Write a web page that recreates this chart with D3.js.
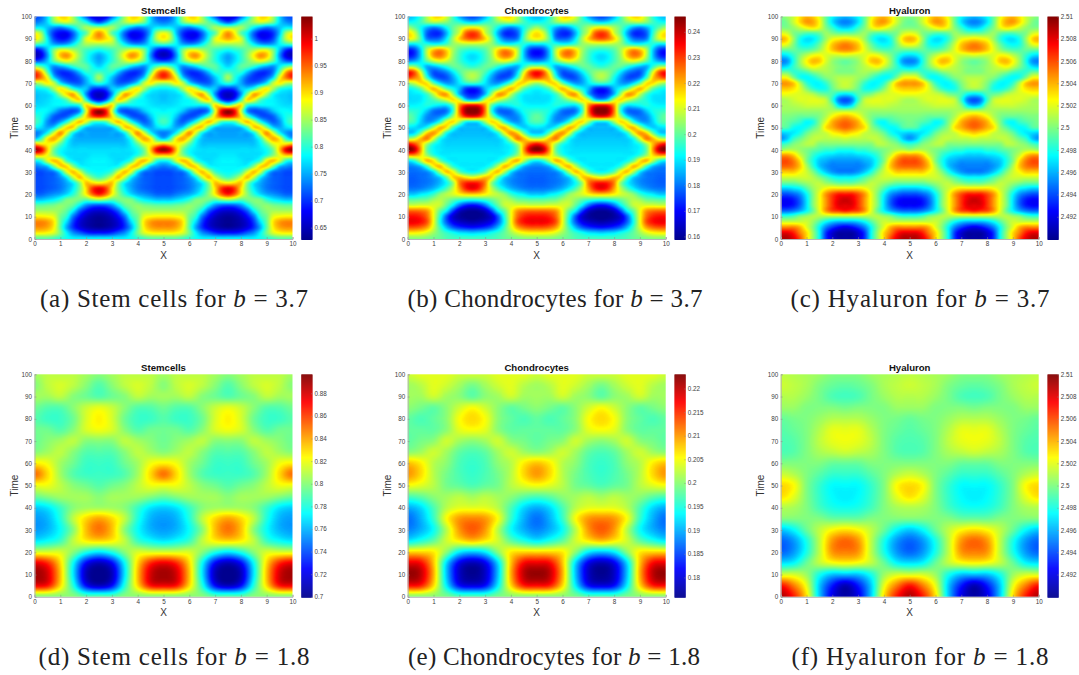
<!DOCTYPE html>
<html>
<head>
<meta charset="utf-8">
<style>
  body { margin: 0; background: #fff; }
  svg text { font-family: "Liberation Sans", sans-serif; }
  svg text.caption { font-family: "Liberation Serif", serif; }
  svg image { filter: blur(0.6px); }
</style>
<script src="https://cdn.jsdelivr.net/npm/d3@7"></script>
</head>
<body>
<svg id="fig" width="1079" height="675"></svg>
<script>
// values. one half period of the pattern (x 0 to 2.5), it repeats mirrored over x 0..10
const xFine = [0, .25, .5, .75, 1, 1.25, 1.5, 1.75, 2, 2.25, 2.5];
const xCoarse = [0, .5, 1, 1.5, 2, 2.5];
const tFine = d3.range(0, 100.1, 2.5);
const tCoarse = d3.range(0, 100.1, 5);

const stemHigh = [
[.82,.82,.82,.81,.80,.79,.78,.78,.78,.78,.78],
[.89,.89,.885,.87,.83,.78,.74,.72,.70,.69,.69],
[.93,.93,.92,.89,.82,.75,.70,.67,.65,.64,.635],
[.935,.935,.925,.895,.825,.77,.705,.665,.645,.635,.63],
[.89,.89,.885,.875,.83,.80,.73,.685,.655,.64,.635],
[.85,.85,.85,.85,.84,.82,.78,.72,.685,.665,.66],
[.82,.82,.825,.83,.84,.835,.82,.78,.74,.72,.715],
[.76,.76,.77,.78,.80,.83,.835,.83,.82,.84,.85],
[.72,.72,.73,.74,.75,.77,.80,.84,.89,.95,.98],
[.71,.71,.715,.72,.73,.75,.78,.83,.90,.97,.995],
[.71,.71,.715,.72,.73,.75,.78,.84,.91,.90,.89],
[.71,.71,.715,.72,.74,.78,.86,.91,.87,.83,.81],
[.71,.71,.72,.73,.78,.87,.91,.87,.81,.79,.785],
[.73,.74,.76,.83,.90,.90,.84,.79,.78,.78,.78],
[.785,.80,.87,.91,.89,.81,.78,.77,.775,.78,.78],
[.91,.91,.88,.84,.80,.775,.77,.77,.77,.775,.775],
[1.03,1.0,.91,.83,.79,.775,.77,.77,.77,.77,.77],
[.92,.90,.89,.87,.82,.78,.76,.76,.76,.76,.76],
[.76,.80,.89,.92,.88,.80,.76,.75,.75,.75,.75],
[.73,.745,.79,.87,.93,.87,.785,.75,.75,.745,.745],
[.78,.77,.75,.77,.84,.90,.90,.81,.76,.75,.75],
[.81,.79,.74,.72,.75,.80,.87,.91,.87,.81,.80],
[.80,.79,.76,.72,.71,.72,.76,.82,.90,.96,.98],
[.78,.785,.78,.76,.73,.715,.71,.74,.87,.99,1.03],
[.77,.77,.775,.78,.78,.78,.78,.80,.90,.87,.83],
[.76,.765,.77,.78,.79,.82,.88,.90,.80,.71,.68],
[.76,.765,.77,.79,.85,.90,.92,.84,.74,.67,.65],
[.78,.785,.80,.85,.89,.86,.80,.77,.76,.71,.70],
[.85,.86,.89,.86,.78,.74,.72,.72,.75,.78,.80],
[.97,.94,.88,.77,.72,.70,.70,.72,.76,.80,.85],
[.96,.92,.82,.73,.70,.70,.72,.76,.80,.80,.81],
[.84,.82,.78,.74,.75,.77,.80,.82,.82,.79,.77],
[.71,.72,.76,.82,.86,.88,.86,.83,.80,.77,.75],
[.65,.67,.74,.84,.91,.93,.89,.84,.80,.77,.75],
[.68,.70,.76,.83,.87,.87,.85,.83,.81,.80,.79],
[.81,.80,.78,.75,.74,.75,.78,.82,.85,.85,.85],
[.89,.86,.78,.71,.685,.69,.73,.79,.87,.90,.92],
[.88,.85,.76,.70,.68,.68,.72,.78,.82,.89,.93],
[.78,.78,.76,.74,.73,.75,.78,.82,.85,.85,.85],
[.73,.74,.77,.83,.86,.87,.85,.82,.79,.74,.71],
[.71,.72,.77,.85,.90,.90,.85,.78,.72,.67,.66]
];

const chondroHigh = [
[.203,.203,.203,.202,.201,.2,.198,.197,.197,.197,.197],
[.214,.214,.213,.21,.205,.2,.196,.193,.19,.189,.188],
[.228,.228,.226,.221,.21,.197,.186,.178,.174,.172,.171],
[.236,.236,.234,.228,.212,.193,.178,.169,.165,.163,.162],
[.234,.234,.232,.226,.212,.195,.178,.166,.161,.159,.158],
[.226,.226,.225,.222,.212,.2,.191,.176,.165,.161,.16],
[.209,.209,.21,.21,.21,.208,.2,.191,.18,.173,.171],
[.199,.199,.2,.201,.205,.207,.204,.2,.197,.195,.194],
[.187,.187,.19,.192,.196,.203,.207,.21,.214,.217,.218],
[.18,.18,.181,.183,.186,.191,.198,.208,.221,.232,.236],
[.178,.178,.179,.18,.182,.186,.192,.204,.224,.232,.234],
[.178,.178,.179,.18,.183,.188,.2,.216,.219,.215,.212],
[.179,.179,.18,.182,.19,.206,.218,.213,.2,.194,.192],
[.181,.182,.186,.197,.213,.219,.208,.196,.191,.19,.19],
[.191,.195,.207,.219,.215,.201,.193,.19,.19,.19,.19],
[.222,.222,.216,.205,.196,.191,.19,.19,.19,.19,.19],
[.246,.241,.222,.2,.192,.19,.189,.189,.189,.189,.189],
[.235,.23,.219,.205,.194,.19,.188,.188,.188,.188,.188],
[.206,.209,.219,.224,.21,.194,.188,.187,.187,.187,.187],
[.187,.189,.201,.217,.222,.212,.194,.187,.186,.186,.186],
[.19,.189,.188,.194,.207,.219,.215,.198,.188,.186,.186],
[.198,.196,.188,.183,.186,.196,.212,.216,.205,.192,.19],
[.2,.197,.19,.182,.18,.182,.19,.205,.22,.232,.235],
[.196,.195,.193,.187,.18,.178,.18,.195,.225,.243,.245],
[.191,.191,.192,.194,.192,.19,.19,.2,.222,.233,.235],
[.189,.189,.19,.194,.198,.204,.21,.216,.208,.19,.185],
[.189,.19,.191,.197,.208,.22,.221,.205,.186,.175,.172],
[.192,.194,.2,.212,.219,.212,.2,.193,.186,.175,.172],
[.205,.209,.216,.215,.2,.189,.183,.184,.19,.195,.197],
[.23,.225,.217,.196,.181,.176,.177,.184,.193,.203,.207],
[.234,.228,.21,.188,.177,.178,.182,.19,.198,.203,.205],
[.205,.204,.195,.185,.186,.19,.195,.2,.2,.197,.195],
[.182,.184,.19,.2,.208,.212,.209,.203,.197,.192,.19],
[.171,.174,.187,.207,.222,.225,.218,.205,.197,.191,.189],
[.172,.175,.188,.207,.218,.222,.216,.206,.199,.196,.195],
[.19,.19,.194,.195,.193,.194,.198,.204,.206,.207,.207],
[.213,.21,.198,.181,.178,.18,.19,.205,.217,.225,.228],
[.216,.21,.195,.178,.173,.174,.185,.2,.21,.226,.231],
[.205,.2,.193,.185,.181,.184,.192,.2,.206,.212,.214],
[.192,.193,.197,.203,.207,.206,.203,.198,.195,.19,.188],
[.186,.188,.195,.207,.216,.217,.21,.197,.185,.178,.175]
];

const hyalHigh = [
[2.509,2.509,2.508,2.506,2.5032,2.5005,2.4975,2.4935,2.4915,2.4905,2.4905],
[2.508,2.508,2.507,2.505,2.5032,2.5005,2.4975,2.4935,2.4915,2.4905,2.4905],
[2.505,2.505,2.505,2.504,2.502,2.5,2.4975,2.495,2.4935,2.4925,2.492],
[2.5015,2.5015,2.5015,2.5015,2.5015,2.5005,2.499,2.4975,2.4965,2.496,2.496],
[2.4985,2.4985,2.499,2.5,2.5005,2.501,2.501,2.501,2.501,2.501,2.501],
[2.4945,2.4945,2.495,2.496,2.4975,2.4995,2.502,2.5045,2.506,2.5065,2.507],
[2.4925,2.4925,2.493,2.4945,2.497,2.5,2.5022,2.5045,2.5065,2.508,2.508],
[2.4925,2.4925,2.493,2.4945,2.497,2.5,2.5022,2.5045,2.5065,2.508,2.5085],
[2.494,2.494,2.4945,2.4955,2.4975,2.5,2.5022,2.5045,2.506,2.507,2.507],
[2.4965,2.4965,2.497,2.4975,2.499,2.5005,2.5015,2.5025,2.503,2.503,2.503],
[2.4995,2.4995,2.4995,2.5,2.5005,2.501,2.5012,2.5005,2.5,2.4995,2.4995],
[2.5015,2.5015,2.5015,2.5015,2.5015,2.501,2.5,2.499,2.498,2.4975,2.4975],
[2.5035,2.5035,2.5035,2.5025,2.5015,2.5,2.498,2.4965,2.4955,2.495,2.495],
[2.5055,2.5055,2.505,2.5035,2.501,2.4985,2.4965,2.4955,2.495,2.495,2.495],
[2.506,2.506,2.505,2.503,2.5,2.498,2.4965,2.496,2.4955,2.4955,2.4955],
[2.5045,2.5045,2.5035,2.5015,2.5,2.4985,2.4975,2.497,2.4968,2.4965,2.4965],
[2.5005,2.501,2.501,2.5005,2.5,2.4995,2.499,2.4985,2.4985,2.498,2.498],
[2.4985,2.499,2.5,2.5005,2.501,2.501,2.5,2.5,2.5,2.5,2.5],
[2.4955,2.4965,2.4985,2.4995,2.5005,2.5012,2.5012,2.501,2.5012,2.5012,2.5015],
[2.4965,2.4968,2.4972,2.498,2.4995,2.5005,2.501,2.5015,2.5025,2.503,2.5035],
[2.4992,2.499,2.4978,2.4975,2.498,2.4992,2.5005,2.503,2.504,2.505,2.5055],
[2.4998,2.4995,2.499,2.4985,2.4975,2.498,2.5,2.502,2.504,2.505,2.5055],
[2.5,2.5,2.4998,2.4995,2.4995,2.4995,2.5,2.501,2.5025,2.5035,2.504],
[2.5005,2.5005,2.5005,2.5005,2.5005,2.5005,2.5005,2.5008,2.501,2.501,2.501],
[2.5008,2.5008,2.501,2.5012,2.5015,2.5015,2.5015,2.5012,2.5,2.497,2.496],
[2.5008,2.501,2.5015,2.5018,2.5018,2.502,2.5018,2.5012,2.4985,2.495,2.494],
[2.5022,2.5022,2.502,2.5018,2.5015,2.501,2.5,2.4995,2.499,2.4975,2.497],
[2.5035,2.5035,2.503,2.5018,2.5,2.4985,2.4978,2.498,2.4995,2.5005,2.5008],
[2.5045,2.5045,2.5035,2.501,2.4985,2.4975,2.4975,2.4985,2.5,2.501,2.5015],
[2.5025,2.5022,2.5,2.498,2.4975,2.498,2.499,2.5,2.5005,2.501,2.501],
[2.4995,2.4995,2.4985,2.4985,2.499,2.5,2.5005,2.5008,2.5005,2.5,2.5],
[2.4965,2.497,2.4985,2.5,2.5015,2.5025,2.502,2.5012,2.5005,2.5,2.4998],
[2.495,2.4955,2.498,2.5005,2.5025,2.5038,2.5035,2.5018,2.5005,2.4998,2.4995],
[2.4968,2.4972,2.4985,2.5,2.5012,2.5022,2.5025,2.5018,2.5015,2.5015,2.5018],
[2.4995,2.4995,2.4995,2.499,2.499,2.4995,2.5005,2.502,2.5035,2.5045,2.5048],
[2.5025,2.502,2.5,2.498,2.4975,2.498,2.4995,2.5015,2.5035,2.5045,2.505],
[2.504,2.5032,2.5005,2.498,2.497,2.4972,2.4985,2.5005,2.502,2.5025,2.5028],
[2.502,2.5015,2.5,2.4995,2.499,2.499,2.4995,2.5005,2.5,2.4995,2.4995],
[2.5,2.5,2.5005,2.5015,2.5025,2.503,2.502,2.5,2.4985,2.497,2.4965],
[2.4995,2.5,2.5015,2.5032,2.5045,2.5042,2.5025,2.4995,2.497,2.4955,2.495],
[2.5,2.5005,2.5015,2.503,2.504,2.5035,2.502,2.4995,2.4975,2.4965,2.496]
];

const stemLow = [
[.80,.80,.80,.80,.79,.79],
[.875,.87,.83,.78,.725,.71],
[.89,.88,.835,.77,.71,.70],
[.875,.865,.83,.775,.725,.71],
[.815,.815,.815,.80,.78,.77],
[.77,.775,.785,.81,.825,.83],
[.755,.76,.775,.80,.835,.85],
[.755,.76,.78,.81,.83,.84],
[.765,.77,.785,.80,.805,.805],
[.795,.80,.805,.805,.805,.80],
[.82,.82,.81,.80,.795,.79],
[.85,.83,.805,.79,.785,.785],
[.825,.82,.805,.795,.785,.785],
[.80,.805,.81,.80,.79,.79],
[.795,.80,.805,.81,.80,.80],
[.795,.795,.79,.80,.815,.82],
[.79,.785,.785,.795,.815,.825],
[.795,.79,.79,.80,.812,.818],
[.805,.805,.81,.80,.795,.79],
[.80,.81,.815,.81,.80,.79],
[.805,.81,.81,.81,.805,.80]
];

const chondroLow = [
[.2,.2,.2,.199,.197,.197],
[.217,.216,.207,.193,.182,.18],
[.222,.22,.209,.191,.179,.176],
[.218,.217,.208,.192,.181,.178],
[.207,.207,.206,.2,.193,.191],
[.193,.195,.198,.203,.206,.208],
[.188,.19,.194,.202,.21,.213],
[.187,.19,.196,.205,.21,.211],
[.19,.192,.197,.202,.204,.204],
[.197,.198,.2,.201,.202,.201],
[.205,.204,.202,.199,.198,.197],
[.21,.207,.202,.199,.197,.196],
[.208,.206,.202,.2,.197,.196],
[.2,.201,.203,.201,.198,.197],
[.198,.199,.2,.203,.201,.2],
[.198,.198,.198,.2,.204,.205],
[.198,.197,.198,.2,.205,.207],
[.2,.199,.198,.2,.203,.205],
[.201,.201,.203,.201,.2,.198],
[.201,.202,.204,.203,.201,.199],
[.203,.204,.204,.204,.203,.203]
];

const hyalLow = [
[2.509,2.507,2.503,2.4965,2.492,2.4905],
[2.507,2.505,2.502,2.4965,2.493,2.491],
[2.5015,2.5015,2.5005,2.498,2.4965,2.4965],
[2.497,2.4975,2.4995,2.5012,2.5022,2.5025],
[2.4945,2.4955,2.498,2.5012,2.5045,2.505],
[2.4945,2.4955,2.498,2.5012,2.5045,2.5055],
[2.4965,2.4975,2.4995,2.5012,2.5025,2.503],
[2.5,2.5,2.5,2.5,2.4995,2.4995],
[2.501,2.5008,2.5,2.4988,2.498,2.4978],
[2.503,2.502,2.5,2.4985,2.4975,2.4972],
[2.5032,2.5025,2.5,2.4985,2.4975,2.4975],
[2.5015,2.501,2.5,2.4992,2.4985,2.4985],
[2.5,2.5,2.5,2.5,2.4995,2.4995],
[2.499,2.4992,2.5,2.5008,2.5012,2.5015],
[2.499,2.4992,2.5,2.5012,2.502,2.5022],
[2.4992,2.4995,2.5,2.501,2.502,2.502],
[2.4995,2.4998,2.5,2.5005,2.501,2.501],
[2.5005,2.5005,2.5,2.5,2.5,2.4998],
[2.501,2.501,2.5005,2.4998,2.499,2.4988],
[2.5015,2.5012,2.5008,2.5,2.4995,2.4993],
[2.5012,2.501,2.5008,2.5005,2.5,2.5]
];

const xTicks = d3.range(0, 11);
const tTicks = d3.range(0, 101, 10);
const stemHighTicks = [.65, .7, .75, .8, .85, .9, .95, 1];
const chondroHighTicks = [.16, .17, .18, .19, .2, .21, .22, .23, .24];
const hyalTicks = [2.492, 2.494, 2.496, 2.498, 2.5, 2.502, 2.504, 2.506, 2.508, 2.51];
const stemLowTicks = [.7, .72, .74, .76, .78, .8, .82, .84, .86, .88];
const chondroLowTicks = [.18, .185, .19, .195, .2, .205, .21, .215, .22];

const panels = [
  { title: "Stemcells", grid: stemHigh, xs: xFine, ts: tFine, range: [.629, 1.041], ticks: stemHighTicks, left: 34.5, top: 16.5, letter: "a", name: "Stem cells", b: "3.7", cx: 174, capW: 268 },
  { title: "Chondrocytes", grid: chondroHigh, xs: xFine, ts: tFine, range: [.159, .246], ticks: chondroHighTicks, left: 407.7, top: 16.5, letter: "b", name: "Chondrocytes", b: "3.7", cx: 555, capW: 295 },
  { title: "Hyaluron", grid: hyalHigh, xs: xFine, ts: tFine, range: [2.49, 2.51], ticks: hyalTicks, left: 780.7, top: 16.5, letter: "c", name: "Hyaluron", b: "3.7", cx: 920, capW: 259 },
  { title: "Stemcells", grid: stemLow, xs: xCoarse, ts: tCoarse, range: [.7, .8968], ticks: stemLowTicks, left: 34.5, top: 374.3, letter: "d", name: "Stem cells", b: "1.8", cx: 174, capW: 271 },
  { title: "Chondrocytes", grid: chondroLow, xs: xCoarse, ts: tCoarse, range: [.1759, .223], ticks: chondroLowTicks, left: 407.7, top: 374.3, letter: "e", name: "Chondrocytes", b: "1.8", cx: 554, capW: 292 },
  { title: "Hyaluron", grid: hyalLow, xs: xCoarse, ts: tCoarse, range: [2.49, 2.51], ticks: hyalTicks, left: 780.7, top: 374.3, letter: "f", name: "Hyaluron", b: "1.8", cx: 920, capW: 257 }
];

const plotW = 258, plotH = 222.5, barGap = 8.8, barW = 11.2;
const jet = d3.scaleLinear()
    .domain([0, .125, .375, .625, .875, 1])
    .range(["#00008f", "#0000ff", "#00ffff", "#ffff00", "#ff0000", "#800000"])
    .clamp(true);
const lut = d3.range(256).map(i => d3.rgb(jet(i / 255)));

// catmull-rom between the read values, same idea as shading interp in the original
function cubic(a, b, c, d, f) {
  return b + .5 * f * (c - a + f * (2 * a - 5 * b + 4 * c - d + f * (3 * (b - c) + d - a)));
}

function sampler(grid, xs, ts) {
  const nx = xs.length - 1, nt = ts.length - 1;
  const dx = xs[1] - xs[0], dt = ts[1] - ts[0];
  const col = i => { i = Math.abs(i); return i > nx ? 2 * nx - i : i; };
  const row = j => Math.max(0, Math.min(nt, j));
  return (x, t) => {
    let m = x % 5;
    if (m > 2.5) m = 5 - m;
    const gx = m / dx, gt = t / dt;
    const i = Math.min(nx - 1, Math.floor(gx)), j = Math.min(nt - 1, Math.floor(gt));
    const vals = [-1, 0, 1, 2].map(o => {
      const r = grid[row(j + o)];
      return cubic(r[col(i - 1)], r[col(i)], r[col(i + 1)], r[col(i + 2)], gx - i);
    });
    return cubic(vals[0], vals[1], vals[2], vals[3], gt - j);
  };
}

const svg = d3.select("#fig");

function styleAxis(g) {
  g.selectAll(".domain").attr("stroke", "#b5b5b5").attr("stroke-width", 1);
  g.selectAll(".tick line").attr("stroke", "#8a8a8a").attr("stroke-width", .5);
  g.selectAll(".tick text").attr("fill", "#404040").attr("font-size", 6.3);
}

panels.forEach(p => {
  const x = d3.scaleLinear().domain([0, 10]).range([0, plotW]);
  const t = d3.scaleLinear().domain([0, 100]).range([plotH, 0]);
  const norm = d3.scaleLinear().domain(p.range).range([0, 255]).clamp(true);
  const bar = d3.scaleLinear().domain(p.range).range([plotH, 0]);
  const val = sampler(p.grid, p.xs, p.ts);

  const g = svg.append("g").attr("transform", `translate(${p.left},${p.top})`);

  const cv = document.createElement("canvas");
  cv.width = plotW; cv.height = Math.round(plotH);
  const ctx = cv.getContext("2d");
  const img = ctx.createImageData(cv.width, cv.height);
  for (let py = 0; py < cv.height; py++) {
    for (let px = 0; px < cv.width; px++) {
      const c = lut[Math.round(norm(val(x.invert(px + .5), t.invert(py + .5))))];
      const k = (py * cv.width + px) * 4;
      img.data[k] = c.r; img.data[k + 1] = c.g; img.data[k + 2] = c.b; img.data[k + 3] = 255;
    }
  }
  ctx.putImageData(img, 0, 0);
  g.append("image")
      .attr("href", cv.toDataURL())
      .attr("width", plotW).attr("height", plotH)
      .attr("preserveAspectRatio", "none");

  g.append("g").attr("transform", `translate(0,${plotH})`)
      .call(d3.axisBottom(x).tickValues(xTicks).tickFormat(d3.format("d")).tickSize(-2).tickPadding(3))
      .call(styleAxis);
  g.append("g")
      .call(d3.axisLeft(t).tickValues(tTicks).tickFormat(d3.format("d")).tickSize(-2).tickPadding(2.5))
      .call(styleAxis);

  g.append("text").attr("x", plotW / 2).attr("y", -3)
      .attr("text-anchor", "middle").attr("font-size", 9.6).attr("font-weight", "bold")
      .attr("fill", "#111").text(p.title);
  g.append("text").attr("x", plotW / 2).attr("y", plotH + 19.5)
      .attr("text-anchor", "middle").attr("font-size", 10).attr("fill", "#333").text("X");
  g.append("text").attr("transform", `translate(-17,${plotH / 2}) rotate(-90)`)
      .attr("text-anchor", "middle").attr("font-size", 10).attr("fill", "#333").text("Time");

  // colorbar
  const cb = g.append("g").attr("transform", `translate(${plotW + barGap},0)`);
  const steps = d3.range(0, Math.round(plotH));
  cb.selectAll("rect").data(steps).enter().append("rect")
      .attr("x", 0).attr("width", barW)
      .attr("y", d => d).attr("height", 1.5)
      .attr("fill", d => jet((plotH - d - .5) / plotH));
  cb.append("g").attr("transform", `translate(${barW},0)`)
      .call(d3.axisRight(bar).tickValues(p.ticks).tickFormat(d => String(+d.toFixed(3))).tickSize(-1.5).tickPadding(2))
      .call(styleAxis)
      .call(a => a.select(".domain").attr("stroke", "none"));

  const cap = svg.append("text").attr("class", "caption")
      .attr("x", p.cx).attr("y", p.top + 290.5)
      .attr("text-anchor", "middle").attr("font-size", 25).attr("fill", "#222")
      .attr("textLength", p.capW).attr("lengthAdjust", "spacing");
  cap.append("tspan").text(`(${p.letter}) ${p.name} for `);
  cap.append("tspan").attr("font-style", "italic").text("b");
  cap.append("tspan").text(` = ${p.b}`);
});
</script>
</body>
</html>
